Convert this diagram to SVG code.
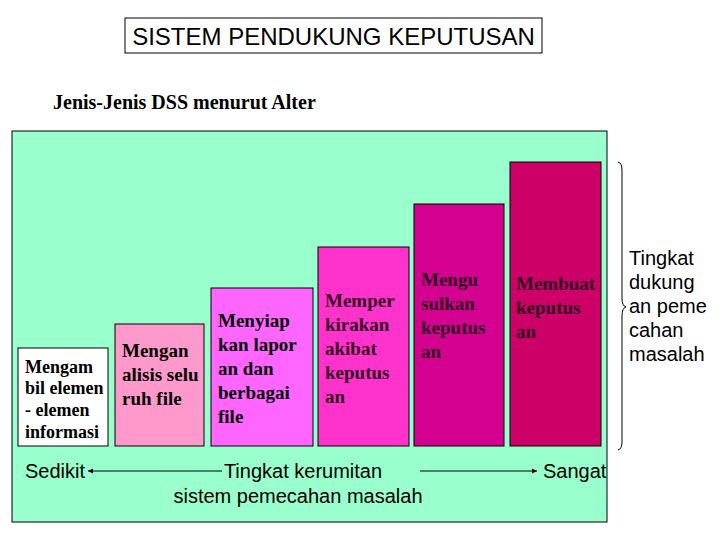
<svg xmlns="http://www.w3.org/2000/svg" width="720" height="540" viewBox="0 0 720 540">
<style>
.bar{stroke:#000;stroke-width:1}
.bt{font-family:"Liberation Serif","Times New Roman",serif;font-weight:bold;font-size:19px;fill:#000}
.bt2{font-family:"Liberation Serif","Times New Roman",serif;font-weight:bold;font-size:19px;fill:#330022}
.st{font-family:"Liberation Sans",Arial,sans-serif;font-size:20px;fill:#000}
</style>
<defs>
<marker id="ah" markerWidth="6" markerHeight="6" refX="5" refY="3" orient="auto" markerUnits="userSpaceOnUse">
<path d="M0,0.5 L5,3 L0,5.5 Z" fill="#000"/>
</marker>
</defs>
<rect width="720" height="540" fill="#fff"/>
<g id="title">
<rect x="125" y="18" width="417" height="35" fill="#fff" stroke="#000" stroke-width="1"/>
<text x="333.5" y="44.5" text-anchor="middle" font-family="Liberation Sans, Arial, sans-serif" font-size="24" fill="#000">SISTEM PENDUKUNG KEPUTUSAN</text>
</g>
<text id="subtitle" x="53" y="109" font-family="Liberation Serif, Times New Roman, serif" font-weight="bold" font-size="20" fill="#000">Jenis-Jenis DSS menurut Alter</text>
<rect id="panel" x="12" y="131" width="595" height="391" fill="#99FFCC" stroke="#000" stroke-width="1"/>
<g id="bar1">
<rect class="bar" x="18" y="348" width="90" height="98" fill="#FFFFFF"/>
<text class="bt" x="25" style="font-size:18px"><tspan x="25" y="373">Mengam</tspan><tspan x="25" y="394">bil elemen</tspan><tspan x="25" y="416">- elemen</tspan><tspan x="25" y="438">informasi</tspan></text>
</g>
<g id="bar2">
<rect class="bar" x="115" y="324" width="89" height="122" fill="#FF99CC"/>
<text class="bt" x="122"><tspan x="122" y="357">Mengan</tspan><tspan x="122" y="381">alisis selu</tspan><tspan x="122" y="405">ruh file</tspan></text>
</g>
<g id="bar3">
<rect class="bar" x="211" y="288" width="102" height="158" fill="#FF66FF"/>
<text class="bt" x="218"><tspan x="218" y="327">Menyiap</tspan><tspan x="218" y="351">kan lapor</tspan><tspan x="218" y="375">an dan</tspan><tspan x="218" y="399">berbagai</tspan><tspan x="218" y="423">file</tspan></text>
</g>
<g id="bar4">
<rect class="bar" x="318" y="247" width="91" height="199" fill="#FF33CC"/>
<text class="bt2" x="325"><tspan x="325" y="307">Memper</tspan><tspan x="325" y="331">kirakan</tspan><tspan x="325" y="355">akibat</tspan><tspan x="325" y="379">keputus</tspan><tspan x="325" y="403">an</tspan></text>
</g>
<g id="bar5">
<rect class="bar" x="414" y="204" width="90" height="242" fill="#D4008F"/>
<text class="bt2" x="421"><tspan x="421" y="286">Mengu</tspan><tspan x="421" y="310">sulkan</tspan><tspan x="421" y="334">keputus</tspan><tspan x="421" y="358">an</tspan></text>
</g>
<g id="bar6">
<rect class="bar" x="510" y="162" width="91" height="284" fill="#CC0066"/>
<text class="bt2" x="516"><tspan x="516" y="290">Membuat</tspan><tspan x="516" y="314">keputus</tspan><tspan x="516" y="338">an</tspan></text>
</g>
<g id="connectors" stroke="#000" stroke-width="1" fill="none">
<line x1="222" y1="471" x2="88" y2="471" marker-end="url(#ah)"/>
<line x1="420" y1="471" x2="537" y2="471" marker-end="url(#ah)"/>
<path d="M618,162 Q622,163 622,170 L622,298 Q622,306 626,307 Q622,308 622,316 L622,442 Q622,449 618,450"/>
</g>
<g id="axis-labels">
<text class="st" x="25" y="478">Sedikit</text>
<text class="st" x="303" y="478" text-anchor="middle">Tingkat kerumitan</text>
<text class="st" x="298" y="503" text-anchor="middle">sistem pemecahan masalah</text>
<text class="st" x="543" y="478">Sangat</text>
</g>
<g id="brace-label">
<text class="st" x="629"><tspan x="629" y="265">Tingkat</tspan><tspan x="629" y="289">dukung</tspan><tspan x="629" y="313">an peme</tspan><tspan x="629" y="337">cahan</tspan><tspan x="629" y="361">masalah</tspan></text>
</g>
</svg>
